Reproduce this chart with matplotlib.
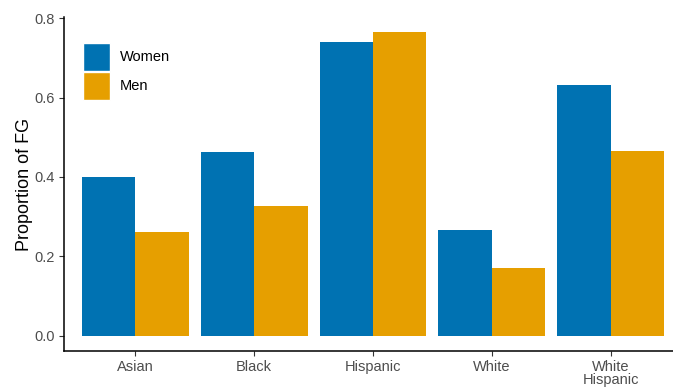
import matplotlib
matplotlib.use("Agg")
import matplotlib.pyplot as plt
import numpy as np
from matplotlib.patches import Rectangle

plt.rcParams['font.family'] = ['Liberation Sans', 'DejaVu Sans']

groups = ["Asian", "Black", "Hispanic", "White", "White\nHispanic"]
women = [0.401, 0.464, 0.741, 0.266, 0.632]
men = [0.261, 0.328, 0.766, 0.171, 0.466]
series_names = ["Women", "Men"]
colors = ["#0072B2", "#E69F00"]

W, H = 673, 387
fig = plt.figure(figsize=(W / 100, H / 100), dpi=100)
# axes box in pixel coordinates (x0, y_top, x1, y_bottom)
x0, x1 = 64, 682
ytop, ybot = 17, 351
ax = fig.add_axes([x0 / W, 1 - ybot / H, (x1 - x0) / W, (ybot - ytop) / H])

x = np.arange(1, len(groups) + 1)
bw = 0.45
ax.bar(x - bw / 2, women, width=bw, color=colors[0], label=series_names[0])
ax.bar(x + bw / 2, men, width=bw, color=colors[1], label=series_names[1])

ax.set_xlim(0.4, len(groups) + 0.6)
ax.set_ylim(-0.0383, 0.803)
ax.set_yticks([0.0, 0.2, 0.4, 0.6, 0.8])
ax.set_yticklabels(["0.0", "0.2", "0.4", "0.6", "0.8"])
ax.set_xticks(x)
ax.set_xticklabels(groups, linespacing=0.95)

for s in ["top", "right"]:
    ax.spines[s].set_visible(False)
for s in ["left", "bottom"]:
    ax.spines[s].set_linewidth(1.1)
    ax.spines[s].set_color("black")

ax.tick_params(axis="both", length=3.5, width=0.8, color="#333333",
               labelcolor="#4d4d4d", labelsize=10.5, pad=3)
ax.tick_params(axis="x", pad=3)
ax.set_ylabel("Proportion of FG", fontsize=13, color="black", labelpad=1)

# legend drawn as keys with labels
for i, (name, c) in enumerate(zip(series_names, colors)):
    ky = 43 + i * 29
    fig.patches.append(Rectangle((83 / W, 1 - (ky + 28) / H), 27 / W, 28 / H,
                                 transform=fig.transFigure, facecolor=c,
                                 edgecolor="white", linewidth=1))
    fig.text(120 / W, 1 - (ky + 14) / H, name, fontsize=10.5, va="center",
             ha="left", color="black")

fig.savefig("out.png", dpi=100)
